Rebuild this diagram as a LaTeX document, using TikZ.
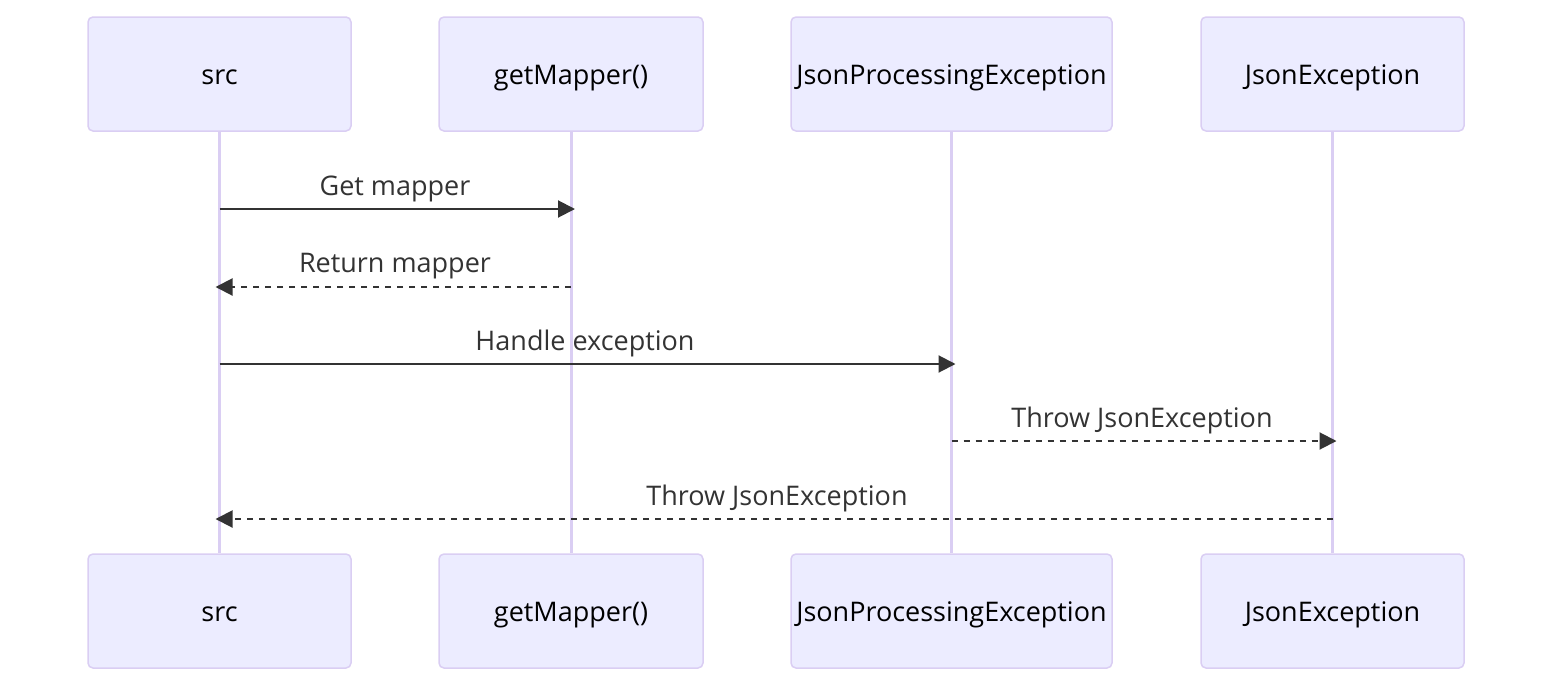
\documentclass[tikz,border=0pt]{standalone}
\usepackage{fontspec}
\setmainfont{Open Sans}
\usepackage{tikz}
\usetikzlibrary{arrows.meta,positioning}
\definecolor{ActorFill}{RGB}{236, 236, 255}
\definecolor{ActorLine}{RGB}{218, 206, 243}
\definecolor{MsgGray}{RGB}{51, 51, 51}
\tikzset{
    actor/.style={draw=ActorLine, fill=ActorFill, line width=1.5pt, rounded corners=5pt,
        minimum height=114pt, inner sep=0pt, text height=20pt, text depth=0pt,
        font=\fontsize{27}{32}\selectfont},
    lifeline/.style={ActorLine, line width=3pt},
    msg/.style={MsgGray, line width=2pt, -{Triangle[length=17pt, width=17pt]}, shorten >=-4pt},
    reply/.style={msg, dash pattern=on 6pt off 6pt},
    msglabel/.style={MsgGray, inner sep=0pt, text height=20pt, text depth=0pt,
        font=\fontsize{27}{32}\selectfont}
}
\begin{document}
\begin{tikzpicture}[x=1pt, y=-1pt]
    \useasboundingbox (0,0) rectangle (1568,696);
    % actors, top and bottom
    \foreach \name/\x/\w/\txt in {src/219.5/263/src, map/571/264/getMapper(),
        jpe/951.5/321/JsonProcessingException, je/1332.5/263/JsonException} {
        \node[actor, minimum width=\w pt] (\name Top) at (\x,74) {\txt};
        \node[actor, minimum width=\w pt] (\name Bot) at (\x,611) {\txt};
    }
    \foreach \name in {src,map,jpe,je} {
        \draw[lifeline] (\name Top) -- (\name Bot);
        \foreach \i/\y in {1/209,2/287,3/364,4/441,5/519}
            \coordinate (\name\i) at (\name Top.south |- 0,\y);
    }
    % messages
    \draw[msg] (src1) -- (map1);
    \node[msglabel] (lblGet) at (395,185) {Get mapper};
    \draw[reply] (map2) -- (src2);
    \node[msglabel] (lblReturn) at (395,262) {Return mapper};
    \draw[msg] (src3) -- (jpe3);
    \node[msglabel] (lblHandle) at (585,340) {Handle exception};
    \draw[reply] (jpe4) -- (je4);
    \node[msglabel] (lblThrow) at (1142,417) {Throw JsonException};
    \draw[reply] (je5) -- (src5);
    \node[msglabel] (lblThrowBack) at (777,495) {Throw JsonException};
\end{tikzpicture}
\end{document}
